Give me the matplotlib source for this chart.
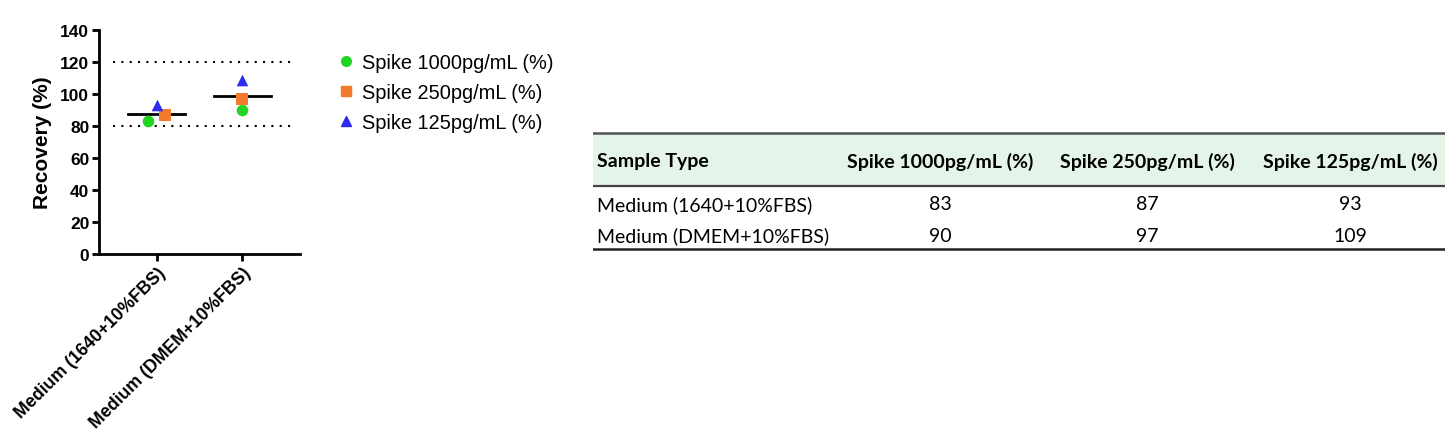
import numpy as np
import matplotlib.pyplot as plt
from matplotlib.lines import Line2D

# data
samples = ["Medium (1640+10%FBS)", "Medium (DMEM+10%FBS)"]
series = ["Spike 1000pg/mL (%)", "Spike 250pg/mL (%)", "Spike 125pg/mL (%)"]
spike_1000 = [83, 90]
spike_250 = [87, 97]
spike_125 = [93, 109]
table_header = ["Sample Type"] + series

colors = ["#22d422", "#f47a2c", "#2b2bf2"]
markers = ["o", "s", "^"]
# horizontal jitter used by the original (points overlap in group 1 only)
jitter = [[-0.1, 0.0], [0.1, 0.0], [0.0, 0.0]]

W, H = 1445, 439
fig = plt.figure(figsize=(W / 100, H / 100), dpi=100)
plt.rcParams['font.family'] = ['Liberation Sans', 'DejaVu Sans']

ax = fig.add_axes([99 / W, 1 - 255 / H, 201 / W, 224 / H])
x = np.arange(len(samples))
values = [spike_1000, spike_250, spike_125]
for i in range(3):
    ax.scatter(x + np.array(jitter[i]), values[i], marker=markers[i], color=colors[i],
               s=70, zorder=3, linewidths=0)

means = np.mean(np.array(values), axis=0)
for xi, m in zip(x, means):
    ax.plot([xi - 0.335, xi + 0.335], [m, m], color="black", lw=2, zorder=2)

for yl in [80, 120]:
    ax.plot([-0.52, 1.63], [yl, yl], color="black", lw=1.5, ls=(0, (1, 3)), zorder=1)

ax.set_xlim(-0.68, 1.68)
ax.set_ylim(0, 140)
ax.set_yticks(range(0, 141, 20))
ax.set_xticks(x)
ax.set_xticklabels(samples, rotation=45, ha="right", rotation_mode="anchor",
                   fontsize=12.8, fontweight="bold")
for lab in ax.get_yticklabels():
    lab.set_fontweight("bold")
    lab.set_fontsize(12.5)
ax.set_ylabel("Recovery (%)", fontsize=15, fontweight="bold", labelpad=6)
for s in ["top", "right"]:
    ax.spines[s].set_visible(False)
for s in ["left", "bottom"]:
    ax.spines[s].set_linewidth(2)
ax.tick_params(width=2, length=5, pad=2)

handles = [Line2D([], [], marker=markers[i], color=colors[i], ls="none", markersize=7)
           for i in range(3)]
fig.legend(handles, series, loc="upper left", bbox_to_anchor=(336 / W, 1 - 54 / H),
           frameon=False, fontsize=14.4, handletextpad=0.3, labelspacing=0.56,
           handlelength=1.0, borderpad=0, borderaxespad=0)

# table
tx = fig.add_axes([593 / W, 1 - 253 / H, (W - 593) / W, 121 / H])
tx.set_xlim(593, W)
tx.set_ylim(253, 132)
tx.axis("off")
tx.add_patch(plt.Rectangle((593, 134), W - 593, 52, color="#e4f4e9", lw=0, zorder=0))
tx.plot([593, W], [134, 134], color="#555555", lw=1.8)
tx.plot([593, W], [186.5, 186.5], color="#444444", lw=1.6)
tx.plot([593, W], [250, 250], color="#222222", lw=1.8)

tfont = ["Lato", "DejaVu Sans"]
col_x = [597, 940, 1147, 1350]
for j, h in enumerate(table_header):
    tx.text(col_x[j], 162, h, ha="left" if j == 0 else "center", va="center",
            fontsize=14, fontweight="bold", family=tfont)
rows_y = [205, 236]
for r, name in enumerate(samples):
    tx.text(col_x[0], rows_y[r], name, ha="left", va="center", fontsize=14, family=tfont)
    for j in range(3):
        tx.text(col_x[j + 1], rows_y[r], str(values[j][r]), ha="center", va="center",
                fontsize=14, family=tfont)

fig.savefig("out.png", dpi=100)
